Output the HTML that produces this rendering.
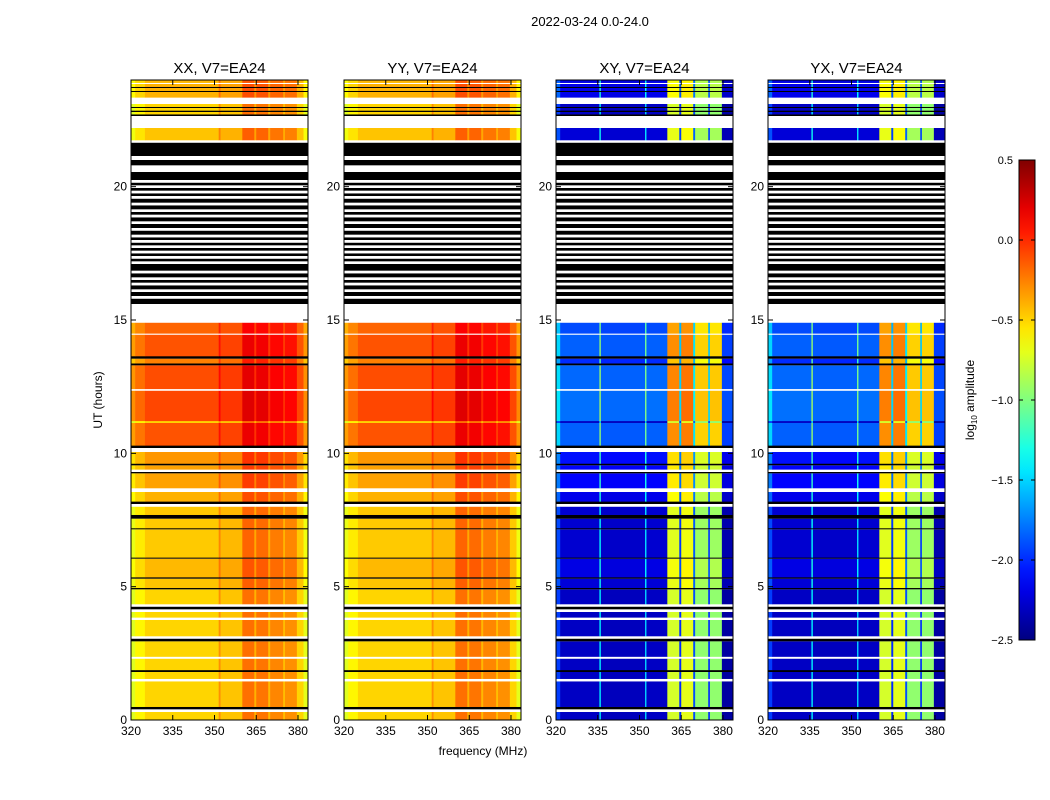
<!DOCTYPE html>
<html><head><meta charset="utf-8">
<style>
body{margin:0;background:#fff;}
svg{display:block;font-family:"Liberation Sans","DejaVu Sans",sans-serif;}
</style></head>
<body>
<svg id="chart" width="1050" height="800" xmlns="http://www.w3.org/2000/svg">
<text x="590" y="26" font-size="13" text-anchor="middle">2022-03-24 0.0-24.0</text>
<text x="483" y="755" font-size="12" text-anchor="middle">frequency (MHz)</text>
<text transform="translate(102,400) rotate(-90)" font-size="12" text-anchor="middle">UT (hours)</text>
<text transform="translate(974,400) rotate(-90)" font-size="12" text-anchor="middle">log<tspan font-size="8" dy="3">10</tspan><tspan dy="-3"> amplitude</tspan></text>
<g id="panels"></g>
<g id="cbar"></g>
</svg>
<script>
// ---- data ----
const panelTitles = ["XX, V7=EA24","YY, V7=EA24","XY, V7=EA24","YX, V7=EA24"];
const panelKinds = ["par","par","cross","cross"];
const xTicks = [320,335,350,365,380];
const yTicks = [0,5,10,15,20];
const cbarTicks = [0.5,0.0,-0.5,-1.0,-1.5,-2.0,-2.5];
// frequency bands: [start MHz, end MHz, log amplitude]
const parBands = [[320,321.5,-0.72],[321.5,325,-0.6],[325,351.5,-0.5],[351.5,352.2,-0.3],[352.2,360,-0.45],[360,364.3,-0.2],[364.3,365,-0.4],[365,369.3,-0.22],[369.3,370,-0.42],[370,374.7,-0.27],[374.7,375.3,-0.45],[375.3,379.6,-0.3],[379.6,382,-0.5],[382,383.6,-0.7]];
const crossBands = [[320,321.5,-1.95],[321.5,335.6,-2.3],[335.6,336.1,-1.4],[336.1,352,-2.32],[352,352.5,-1.5],[352.5,360,-2.3],[360,364.3,-0.75],[364.3,365,-2.0],[365,369.3,-0.7],[369.3,370,-1.9],[370,374.7,-0.95],[374.7,375.3,-2.0],[375.3,379.6,-0.95],[379.6,383.6,-2.4]];
// time segments: [start h, end h, type d=data/k=black/w=white, level offset]
const segments = [[0,0.3,'d',0],[0.3,0.4,'w',0],[0.4,0.5,'k',0],[0.5,1.45,'d',0],[1.45,1.55,'w',0],[1.55,1.8,'d',0],[1.8,1.88,'k',0],[1.88,2.3,'d',0],[2.3,2.38,'w',0],[2.38,2.95,'d',0],[2.95,3.05,'k',0],[3.05,3.15,'w',0],[3.15,3.75,'d',0],[3.75,3.85,'w',0],[3.85,4.05,'d',0],[4.05,4.15,'w',0],[4.15,4.25,'k',0],[4.25,4.35,'w',0],[4.35,4.9,'d',0.0],[4.9,4.96,'k',0],[4.96,5.3,'d',0.05],[5.3,5.36,'k',0],[5.36,6.05,'d',0.08],[6.05,6.1,'k',0],[6.1,7.15,'d',0.03],[7.15,7.2,'k',0],[7.2,7.55,'d',0.03],[7.55,7.7,'k',0],[7.7,8.0,'d',0.03],[8.0,8.1,'w',0],[8.1,8.2,'k',0],[8.2,8.55,'d',0.1],[8.55,8.7,'w',0],[8.7,9.25,'d',0.15],[9.25,9.3,'k',0],[9.3,9.4,'w',0],[9.4,9.55,'d',0.15],[9.55,9.62,'k',0],[9.62,10.05,'d',0.18],[10.05,10.2,'w',0],[10.2,10.3,'k',0],[10.3,11.15,'d',0.38],[11.15,11.22,'d',0.0],[11.22,12.35,'d',0.42],[12.35,12.42,'w',0],[12.42,13.3,'d',0.4],[13.3,13.38,'k',0],[13.38,13.55,'d',0.25],[13.55,13.65,'k',0],[13.65,14.45,'d',0.38],[14.45,14.5,'w',0],[14.5,14.9,'d',0.33],[14.9,15.6,'w',0],
[15.6,15.8,'k',0],[15.8,15.9,'w',0],[15.9,16.05,'k',0],[16.05,16.15,'w',0],[16.15,16.3,'k',0],[16.3,16.4,'w',0],[16.4,16.5,'k',0],[16.5,16.6,'w',0],[16.6,16.75,'k',0],[16.75,16.85,'w',0],[16.85,17.1,'k',0],[17.1,17.2,'w',0],[17.2,17.3,'k',0],[17.3,17.4,'w',0],[17.4,17.5,'k',0],[17.5,17.6,'w',0],[17.6,17.7,'k',0],[17.7,17.8,'w',0],[17.8,17.9,'k',0],[17.9,18.0,'w',0],[18.0,18.1,'k',0],[18.1,18.2,'w',0],[18.2,18.35,'k',0],[18.35,18.45,'w',0],[18.45,18.6,'k',0],[18.6,18.7,'w',0],[18.7,18.85,'k',0],[18.85,18.95,'w',0],[18.95,19.05,'k',0],[19.05,19.15,'w',0],[19.15,19.3,'k',0],[19.3,19.4,'w',0],[19.4,19.55,'k',0],[19.55,19.65,'w',0],[19.65,19.75,'k',0],[19.75,19.85,'w',0],[19.85,19.95,'k',0],[19.95,20.05,'w',0],[20.05,20.15,'k',0],[20.15,20.25,'w',0],[20.25,20.55,'k',0],[20.55,20.8,'w',0],[20.8,21.0,'k',0],
[21.0,21.15,'w',0],[21.15,21.65,'k',0],[21.65,21.75,'w',0],[21.75,22.2,'d',0.05],[22.2,22.65,'w',0],[22.65,22.72,'k',0],[22.72,22.8,'d',0],[22.8,22.86,'k',0],[22.86,22.95,'d',0],[22.95,23.0,'k',0],[23.0,23.1,'d',0],[23.1,23.35,'w',0],[23.35,23.55,'d',0.1],[23.55,23.6,'k',0],[23.6,23.7,'d',0.1],[23.7,23.75,'k',0],[23.75,23.85,'d',0.1],[23.85,23.9,'w',0],[23.9,24,'d',0.08]];

// ---- geometry ----
const panelX = [131,344,556,768], PW = 177, PT = 80, PB = 720;
const F0 = 320, F1 = 383.6, H0 = 0, H1 = 24, VMIN = -2.5, VMAX = 0.5;
const NS = "http://www.w3.org/2000/svg";
function yScale(h){return PB-(h-H0)/(H1-H0)*(PB-PT);}
function jet(v){
  let t=(v-VMIN)/(VMAX-VMIN); t=Math.max(0,Math.min(1,t));
  const c=x=>Math.round(255*Math.max(0,Math.min(1,x)));
  const r=1.5-Math.abs(4*t-3), g=1.5-Math.abs(4*t-2), b=1.5-Math.abs(4*t-1);
  return `rgb(${c(r)},${c(g)},${c(b)})`;
}
function mk(tag,attrs,parent){const e=document.createElementNS(NS,tag);for(const k in attrs)e.setAttribute(k,attrs[k]);parent.appendChild(e);return e;}
const panels=document.getElementById('panels');
panelTitles.forEach((title,pi)=>{
  const x0=panelX[pi];
  const xScale=f=>x0+(f-F0)/(F1-F0)*PW;
  const g=mk('g',{},panels);
  
  
  const bands = panelKinds[pi]==='par'?parBands:crossBands;
  const lvlScale = panelKinds[pi]==='par'?1:1.2;
  segments.forEach(s=>{
    const y1=yScale(s[1]), y0=yScale(s[0]);
    if(s[2]==='d'){
      bands.forEach(b=>{
        const r=mk('rect',{x:xScale(b[0]),y:y1,width:xScale(b[1])-xScale(b[0])+0.3,height:y0-y1+0.3,fill:jet(b[2]+s[3]*lvlScale)},g);
        
        
      });
    } else {
      const r=mk('rect',{x:x0,y:y1,width:PW,height:y0-y1,fill:s[2]==='k'?'#000':'#fff'},g);
      
      
    }
  });
  const fr=mk('rect',{x:x0,y:PT,width:PW,height:PB-PT,fill:'none',stroke:'#000','stroke-width':1},g);
  
  
  const t=mk('text',{x:x0+PW/2,y:73,'font-size':15,'text-anchor':'middle'},g);
  t.textContent=title;
  
  
  xTicks.forEach(f=>{
    const x=xScale(f);
    mk('line',{x1:x,x2:x,y1:PB,y2:PB-5,stroke:'#000'},g);
    mk('line',{x1:x,x2:x,y1:PT,y2:PT+5,stroke:'#000'},g);
    const l=mk('text',{x:x,y:PB+15,'font-size':12,'text-anchor':'middle'},g);
    l.textContent=f;
    
    
  });
  yTicks.forEach(h=>{
    const y=yScale(h);
    mk('line',{x1:x0,x2:x0+5,y1:y,y2:y,stroke:'#000'},g);
    mk('line',{x1:x0+PW,x2:x0+PW-5,y1:y,y2:y,stroke:'#000'},g);
    const l=mk('text',{x:x0-4,y:y+4,'font-size':12,'text-anchor':'end'},g);
    l.textContent=h;
    
    
  });
});
// colorbar
const cb=document.getElementById('cbar');
const CX=1019, CW=16, CT=160, CB=640;
const cyScale=v=>CB-(v-VMIN)/(VMAX-VMIN)*(CB-CT);
const defs=mk('defs',{},cb);
const grad=mk('linearGradient',{id:'jetg',x1:0,y1:1,x2:0,y2:0},defs);
for(let i=0;i<=20;i++){mk('stop',{offset:i/20,'stop-color':jet(VMIN+(VMAX-VMIN)*i/20)},grad);}
const cr=mk('rect',{x:CX,y:CT,width:CW,height:CB-CT,fill:'url(#jetg)',stroke:'#000'},cb);


cbarTicks.forEach(v=>{
  const y=cyScale(v);
  mk('line',{x1:CX,x2:CX+4,y1:y,y2:y,stroke:'#000'},cb);
  mk('line',{x1:CX+CW,x2:CX+CW-4,y1:y,y2:y,stroke:'#000'},cb);
  const l=mk('text',{x:CX-6,y:y+4,'font-size':11,'text-anchor':'end'},cb);
  l.textContent=v.toFixed(1).replace('-','\u2212');
  
  
});
</script>
</body></html>
